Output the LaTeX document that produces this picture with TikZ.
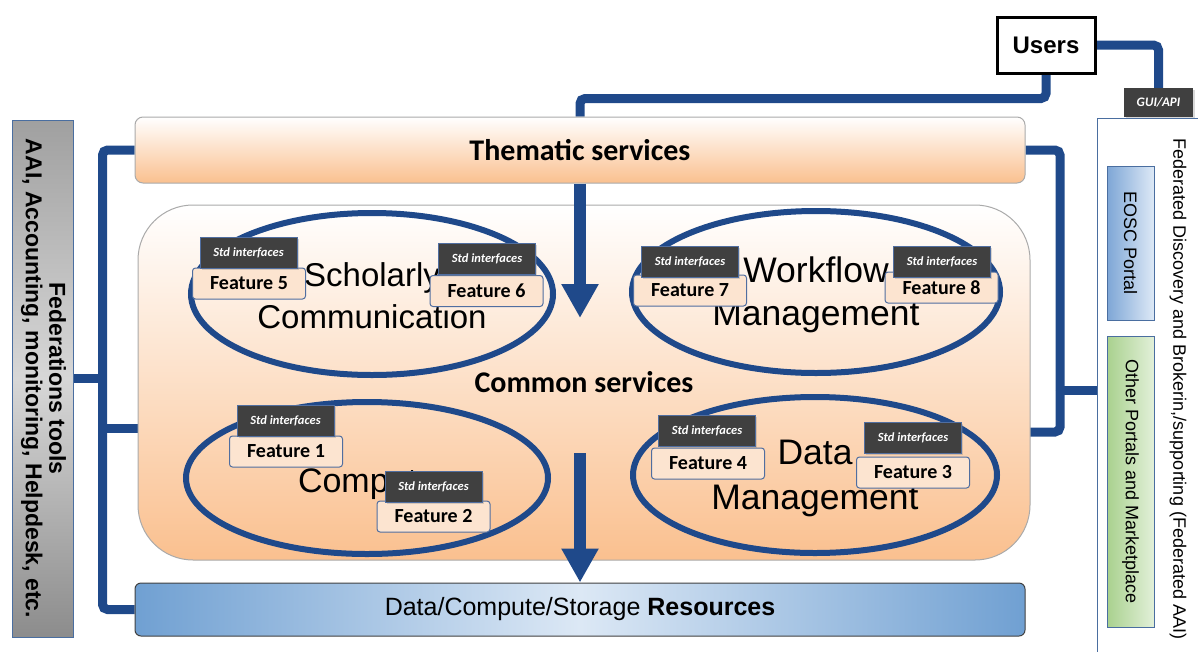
\documentclass[tikz,border=0pt]{standalone}
\usepackage{fontspec}
\setmainfont{Liberation Sans}
\newfontfamily\calfont{Carlito}
\usetikzlibrary{shapes.geometric,arrows.meta,shadows,backgrounds}
\definecolor{dkblue}{RGB}{31,73,138}
\definecolor{orng}{RGB}{250,192,143}
\definecolor{boxgray}{RGB}{170,170,170}
\definecolor{featfill}{RGB}{252,228,208}
\definecolor{featborder}{RGB}{80,110,160}
\definecolor{stdgray}{RGB}{64,64,64}
\definecolor{resedge}{RGB}{112,160,210}
\definecolor{resmid}{RGB}{220,232,245}
\definecolor{gray1}{RGB}{160,160,160}
\definecolor{gray2}{RGB}{140,140,140}
\definecolor{gray3}{RGB}{215,215,215}
\definecolor{panelblue}{RGB}{74,110,160}
\definecolor{eoscdark}{RGB}{126,166,214}
\definecolor{eosclight}{RGB}{221,233,246}
\definecolor{grndark}{RGB}{169,209,142}
\definecolor{grnlight}{RGB}{226,240,217}
\begin{document}
\begin{tikzpicture}[x=1pt,y=-1pt,
 conn/.style={draw=dkblue, line width=9pt, rounded corners=5pt},
 bigarrow/.style={draw=dkblue, line width=12pt, -{Triangle[width=35pt,length=34pt]}},
 feat/.style={draw=featborder, line width=1pt, fill=featfill, rounded corners=3pt, minimum width=113pt, minimum height=31pt, inner sep=0pt, font=\calfont\bfseries\fontsize{20}{20}\selectfont},
 stdbox/.style={fill=stdgray, draw=featborder, line width=0.6pt, minimum width=97pt, minimum height=31pt, inner sep=0pt, text=white, font=\calfont\bfseries\itshape\fontsize{12.5}{13}\selectfont, drop shadow={opacity=0.3, shadow xshift=1.5pt, shadow yshift=-1.5pt}},
 oval/.style={ellipse, draw=dkblue, line width=6pt, inner sep=0pt, align=center},
 layer/.style={draw=boxgray, line width=1pt, top color=white, bottom color=orng, inner sep=0pt, font=\calfont\bfseries\fontsize{30}{30}\selectfont},
 portal/.style={draw=panelblue, line width=0.8pt, inner sep=0pt, minimum width=47pt, font=\fontsize{18}{20}\selectfont}
]
\useasboundingbox (0,0) rectangle (1198,651);

% ---- boxes ----
\node[draw=black, line width=3pt, fill=white, minimum width=98pt, minimum height=56pt, inner sep=0pt, font=\bfseries\fontsize{24}{24}\selectfont] (users) at (1046,45) {Users};
\node[fill=stdgray, minimum width=69pt, minimum height=29pt, inner sep=0pt, text=white, font=\calfont\bfseries\itshape\fontsize{13}{13}\selectfont, drop shadow={opacity=0.3, shadow xshift=1.5pt, shadow yshift=-1.5pt}] (gui) at (1158.5,102.5) {GUI/API};

\node[layer, rounded corners=8pt, minimum width=890pt, minimum height=66pt] (them) at (580,150) {Thematic services};
\node[layer, rounded corners=55pt, minimum width=892pt, minimum height=355pt] (common) at (584,382.5) {Common services};
\node[draw=stdgray, line width=1pt, rounded corners=6pt, left color=resedge, right color=resedge, middle color=resmid, minimum width=890pt, minimum height=53pt, inner sep=0pt, font=\fontsize{25}{25}\selectfont] (res) at (580,609.5) {Data/Compute/Storage \textbf{Resources}};

\node[draw=panelblue, line width=0.8pt, top color=gray1, bottom color=gray2, middle color=gray3, minimum width=61pt, minimum height=517pt, inner sep=0pt, font=\bfseries\fontsize{23}{23}\selectfont] (fed) at (42.5,378.5) {\rotatebox{-90}{\begin{tabular}{@{}c@{}}Federations tools\\AAI, Accounting, monitoring, Helpdesk, etc.\end{tabular}}};

% right panel
\node[draw=panelblue, line width=1pt, anchor=north west, minimum width=150pt, minimum height=600pt, inner sep=0pt] (panel) at (1097,118) {};
\node[inner sep=0pt, font=\fontsize{18}{20}\selectfont] (fedtxt) at (1178,389) {\rotatebox{-90}{Federated Discovery and Brokerin,/supporting (Federated AAI)}};
\node[portal, left color=eoscdark, right color=eosclight, minimum height=154pt] (eosc) at (1130.5,243) {\rotatebox{-90}{EOSC Portal}};
\node[portal, left color=grndark, right color=grnlight, minimum height=291pt] (other) at (1130.5,481.5) {\rotatebox{-90}{Other Portals and Marketplace}};

% ---- connectors (behind boxes) ----
\coordinate (jl) at (103,378);
\coordinate (jc) at (103,428);
\coordinate (jr) at (1060,390);
\coordinate (cr) at (1030,432);
\begin{pgfonlayer}{background}
\draw[conn] (users.south) -- ++(0,24) -| (them.north);
\draw[conn] (users.east) -| (gui.north);
\draw[conn] (them.west) -- ++(-32,0) |- (res.west);
\draw[conn] (jl) -- (fed.east |- jl);
\draw[conn] (jc) -- (common.west |- jc);
\draw[conn] (them.east) -| (jr);
\draw[conn] (cr) -| (jr);
\draw[conn] (jr) -- (panel.west |- jr);
\end{pgfonlayer}

% ellipses
\node[oval, minimum width=362pt, minimum height=162pt, font=\fontsize{33}{42}\selectfont] (schol) at (372,294) {\rule{0pt}{27pt}Scholarly\\Communication};
\node[oval, minimum width=368pt, minimum height=162pt, font=\fontsize{35.5}{43}\selectfont] (work) at (816,292) {\rule{0pt}{32pt}Workflow\\Management};
\node[oval, minimum width=362pt, minimum height=152pt, font=\fontsize{34}{40}\selectfont] (comp) at (367,478) {\rule{0pt}{36.5pt}Compute};
\node[oval, minimum width=364pt, minimum height=156pt, font=\fontsize{35.5}{45}\selectfont] (data) at (815,475) {\rule{0pt}{32pt}Data\\Management};

% features
\node[feat] (f5) at (249,283.5) {Feature 5};
\node[stdbox] (s5) at (248.5,253) {Std interfaces};
\node[feat] (f6) at (486.5,291) {Feature 6};
\node[stdbox] (s6) at (487,259) {Std interfaces};
\node[feat] (f7) at (690,290.5) {Feature 7};
\node[stdbox] (s7) at (690,262) {Std interfaces};
\node[feat] (f8) at (941.5,287.5) {Feature 8};
\node[stdbox] (s8) at (942,261.5) {Std interfaces};
\node[feat] (f1) at (286,451.5) {Feature 1};
\node[stdbox] (s1) at (285.5,420.5) {Std interfaces};
\node[feat] (f2) at (433.5,516.5) {Feature 2};
\node[stdbox] (s2) at (433.5,487) {Std interfaces};
\node[feat] (f4) at (708,463.5) {Feature 4};
\node[stdbox] (s4) at (707,431) {Std interfaces};
\node[feat] (f3) at (913,472.5) {Feature 3};
\node[stdbox] (s3) at (913,437.5) {Std interfaces};

% big arrows
\coordinate (a1e) at (580,318);
\coordinate (a2s) at (580,453);
\draw[bigarrow] (them.south) -- (a1e);
\draw[bigarrow] (a2s) -- (res.north);
\end{tikzpicture}
\end{document}
